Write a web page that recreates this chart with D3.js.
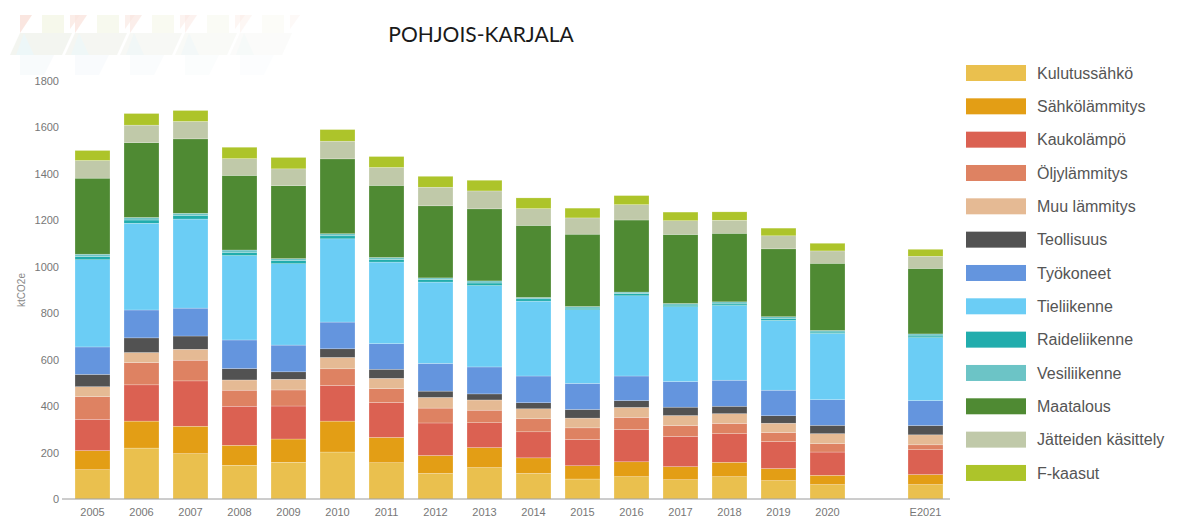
<!DOCTYPE html>
<html>
<head>
<meta charset="utf-8">
<script src="https://cdn.jsdelivr.net/npm/d3@7"></script>
<style>
  body { margin: 0; background: #fff; }
  svg { display: block; }
</style>
</head>
<body>
<svg id="chart"></svg>
<script>
const WIDTH = 1187;
const HEIGHT = 519;

// categories ("" is the empty slot before the estimate)
const years = ["2005", "2006", "2007", "2008", "2009", "2010", "2011", "2012", "2013",
               "2014", "2015", "2016", "2017", "2018", "2019", "2020", "E2021"];
const categories = years.slice(0, 16).concat([""], ["E2021"]);

// emissions, ktCO2e, one value per year
const kulutussahko   = [126, 219, 195, 145, 158, 202, 156, 110, 135, 110, 86, 96, 83, 96, 79, 62, 62];
const sahkolammitys  = [82, 116, 118, 86, 100, 133, 109, 77, 86, 67, 57, 64, 56, 62, 52, 40, 43];
const kaukolampo     = [135, 156, 195, 168, 142, 153, 150, 140, 107, 112, 113, 139, 130, 123, 116, 100, 107];
const oljylammitys   = [97, 96, 89, 69, 69, 72, 60, 64, 54, 56, 50, 52, 47, 44, 39, 36, 21];
const muuLammitys    = [43, 43, 47, 44, 46, 49, 44, 46, 44, 43, 42, 43, 43, 42, 40, 43, 43];
const teollisuus     = [53, 63, 57, 49, 32, 37, 39, 27, 26, 26, 37, 29, 36, 32, 32, 36, 40];
const tyokoneet      = [118, 120, 120, 123, 115, 115, 110, 119, 116, 115, 112, 106, 110, 112, 110, 110, 107];
const tieliikenne    = [375, 373, 383, 363, 350, 358, 351, 350, 350, 322, 317, 345, 322, 321, 300, 285, 271];
const raideliikenne  = [14, 14, 16, 14, 13, 13, 11, 11, 11, 10, 7, 9, 7, 7, 9, 6, 7];
const vesiliikenne   = [10, 11, 9, 10, 9, 9, 9, 7, 9, 6, 7, 7, 7, 9, 7, 7, 9];
const maatalous      = [327, 322, 320, 321, 314, 322, 310, 310, 310, 310, 311, 310, 297, 295, 292, 289, 282];
const jatteet        = [76, 75, 75, 72, 72, 76, 77, 80, 77, 72, 70, 66, 59, 56, 56, 53, 52];
const fkaasut        = [43, 50, 47, 49, 49, 50, 47, 47, 46, 46, 42, 39, 37, 36, 33, 33, 30];

const seriesNames = ["Kulutussähkö", "Sähkölämmitys", "Kaukolämpö", "Öljylämmitys", "Muu lämmitys",
                     "Teollisuus", "Työkoneet", "Tieliikenne", "Raideliikenne", "Vesiliikenne",
                     "Maatalous", "Jätteiden käsittely", "F-kaasut"];
const seriesValues = [kulutussahko, sahkolammitys, kaukolampo, oljylammitys, muuLammitys,
                      teollisuus, tyokoneet, tieliikenne, raideliikenne, vesiliikenne,
                      maatalous, jatteet, fkaasut];
const seriesColors = ["#eac04e", "#e39e15", "#db6152", "#de8262", "#e5ba94",
                      "#525252", "#6495de", "#6bcdf5", "#21adad", "#6cc4c6",
                      "#4f8a33", "#c0c9a9", "#adc42a"];

const yTicks = [0, 200, 400, 600, 800, 1000, 1200, 1400, 1600, 1800];

const svg = d3.select('#chart')
  .attr('width', WIDTH)
  .attr('height', HEIGHT)
  .style('font-family', '"Liberation Sans", Arial, sans-serif');

svg.append('rect').attr('width', WIDTH).attr('height', HEIGHT).attr('fill', '#fff');

// faint decorative banner top-left
const banner = svg.append('g').attr('opacity', 0.5);
for (let c = 0; c < 5; c++) {
  const x0 = 12 + c * 55;
  const op = 1 - c * 0.17;
  const shapes = [
    [[[x0 + 8, 15], [x0 + 20, 15], [x0 + 8, 33]], '#f6cfc2'],
    [[[x0 + 30, 15], [x0 + 52, 15], [x0 + 52, 33], [x0 + 30, 33]], '#eef3d8'],
    [[[x0 + 58, 15], [x0 + 68, 15], [x0 + 58, 29]], '#f8dcd3'],
    [[[x0 + 8, 33], [x0 + 60, 33], [x0 + 50, 55], [x0 - 2, 55]], '#e9ece2'],
    [[[x0 + 12, 33], [x0 + 22, 55], [x0 + 4, 55]], '#ddf0f2'],
    [[[x0 + 8, 55], [x0 + 42, 55], [x0 + 32, 75], [x0 + 8, 75]], '#f3f8fb']
  ];
  shapes.forEach(([pts, col]) => {
    banner.append('polygon')
      .attr('points', pts.map(p => p.join(',')).join(' '))
      .attr('fill', col)
      .attr('opacity', op);
  });
}

// title
svg.append('text')
  .attr('x', 481)
  .attr('y', 42)
  .attr('text-anchor', 'middle')
  .style('font-family', 'Lato, "Open Sans", sans-serif')
  .style('font-size', '21px')
  .attr('fill', '#1a1a1a')
  .text('POHJOIS-KARJALA');

const xScale = d3.scaleBand()
  .domain(categories)
  .range([68, 950])
  .paddingInner(14 / 49)
  .paddingOuter(7 / 49);

const yScale = d3.scaleLinear()
  .domain([0, 1800])
  .range([499, 80.5]);

const rows = years.map((y, i) => {
  const r = { year: y };
  seriesNames.forEach((s, k) => { r[s] = seriesValues[k][i]; });
  return r;
});

const stacked = d3.stack().keys(seriesNames)(rows);

svg.append('g')
  .selectAll('g')
  .data(stacked)
  .join('g')
  .attr('fill', (d, i) => seriesColors[i])
  .selectAll('rect')
  .data(d => d)
  .join('rect')
  .attr('x', d => xScale(d.data.year))
  .attr('width', xScale.bandwidth())
  .attr('y', d => yScale(d[1]))
  .attr('height', d => yScale(d[0]) - yScale(d[1]))
  .attr('stroke', '#fff')
  .attr('stroke-width', 0.5)
  .attr('stroke-opacity', 0.45);

// baseline
svg.append('line')
  .attr('x1', 62).attr('x2', 950)
  .attr('y1', yScale(0)).attr('y2', yScale(0))
  .attr('stroke', '#9a9a9a')
  .attr('stroke-width', 1);

const yAxis = svg.append('g')
  .attr('transform', 'translate(62,0)')
  .call(d3.axisLeft(yScale).tickValues(yTicks).tickFormat(d3.format('d')).tickSize(0).tickPadding(3));
yAxis.select('.domain').remove();
yAxis.selectAll('text')
  .attr('fill', '#777')
  .style('font-size', '11px')
  .style('font-family', '"Liberation Sans", Arial, sans-serif');

const xAxis = svg.append('g')
  .attr('transform', `translate(0,${yScale(0)})`)
  .call(d3.axisBottom(xScale).tickSize(0).tickPadding(9));
xAxis.select('.domain').remove();
xAxis.selectAll('text')
  .attr('fill', '#777')
  .style('font-size', '11px')
  .style('font-family', '"Liberation Sans", Arial, sans-serif');

svg.append('text')
  .attr('transform', 'translate(25,290) rotate(-90)')
  .attr('text-anchor', 'middle')
  .attr('fill', '#888')
  .style('font-size', '10px')
  .text('ktCO2e');

// legend
const legend = svg.append('g')
  .selectAll('g')
  .data(seriesNames)
  .join('g')
  .attr('transform', (d, i) => `translate(966,${73 + i * 33.33})`);

legend.append('rect')
  .attr('x', 0).attr('y', -8)
  .attr('width', 60).attr('height', 16)
  .attr('fill', (d, i) => seriesColors[i]);

legend.append('text')
  .attr('x', 71)
  .attr('dy', '0.36em')
  .attr('fill', '#555')
  .style('font-size', '16px')
  .text(d => d);
</script>
</body>
</html>
